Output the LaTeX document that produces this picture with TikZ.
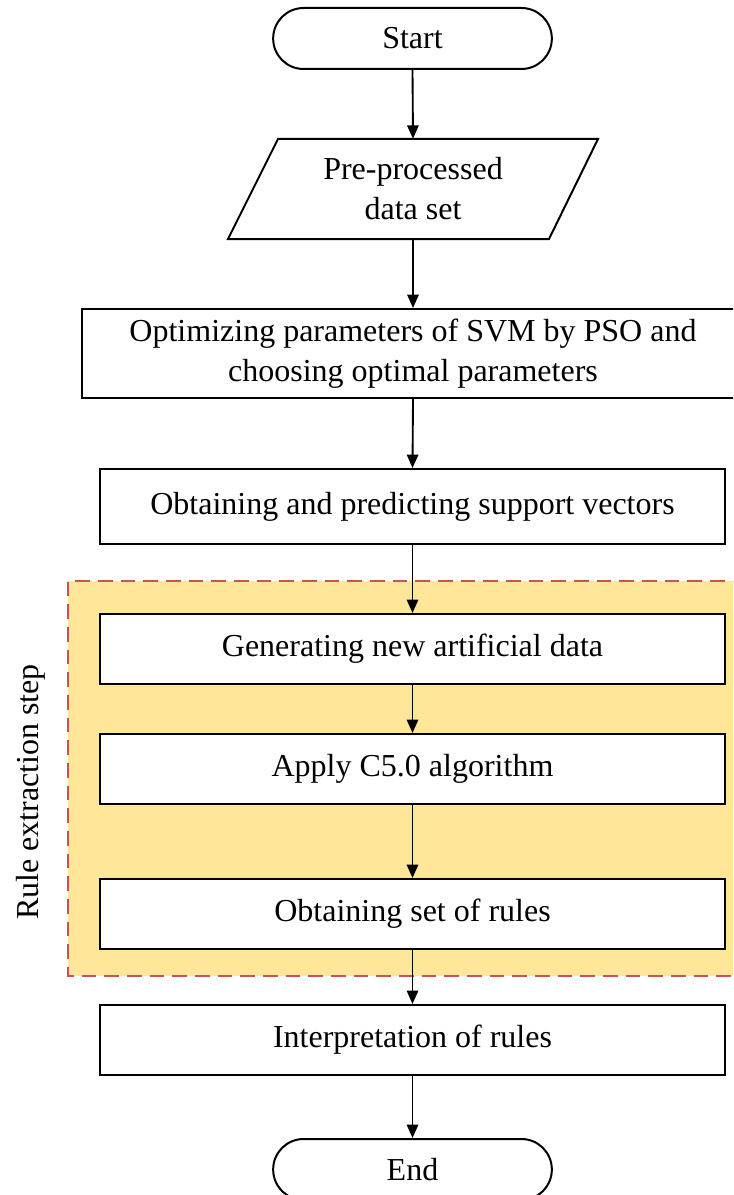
\documentclass[tikz,border=0pt]{standalone}
\usepackage{fontspec}
\setmainfont{Liberation Serif}
\usetikzlibrary{arrows.meta}
\definecolor{ruleyellow}{HTML}{FFE699}
\definecolor{rulered}{HTML}{C9534F}
\begin{document}
\begin{tikzpicture}[x=0.75pt,y=-0.75pt,
  every node/.style={font=\fontsize{24}{30}\selectfont, align=center, inner sep=0pt},
  procbox/.style={draw=black, line width=1.5pt, fill=white, rectangle},
  termbox/.style={draw=black, line width=1.5pt, fill=white, rectangle, rounded corners=22.8pt,
                  minimum width=209pt, minimum height=45.75pt},
  flow/.style={draw=black, line width=1.4pt, -{Triangle[length=10pt,width=8.5pt]}},
  regionline/.style={draw=rulered, line width=1.5pt, dash pattern=on 11pt off 6pt}
]
\useasboundingbox (0,0) rectangle (733,1195);
\begin{scope}
\clip (0,0) rectangle (733,1195);
% rule extraction region
\fill[ruleyellow] (68,581) rectangle (760,976);
\draw[regionline] (770,581) -- (68,581) -- (68,976) -- (770,976);
\node[rotate=90] (rlabel) at (31,792) {Rule extraction step};

% start
\node[termbox] (start) at (412.5,38.5) {Start};
% parallelogram
\draw[line width=1.5pt, fill=white] (278,139) -- (598,139) -- (549,239) -- (228,239) -- cycle;
\node[minimum width=240pt, minimum height=75pt] (data) at (413,189) {Pre-processed\\data set};
% boxes
\node[procbox, minimum width=496.5pt, minimum height=66.75pt] (opt) at (413,353.5)
  {Optimizing parameters of SVM by PSO and\\choosing optimal parameters};
\node[procbox, minimum width=468.75pt, minimum height=56.25pt] (sv) at (412.5,506.5)
  {Obtaining and predicting support vectors};
\node[procbox, minimum width=468.75pt, minimum height=52.5pt] (gen) at (412.5,649)
  {Generating new artificial data};
\node[procbox, minimum width=468.75pt, minimum height=52.5pt] (c50) at (412.5,769)
  {Apply C5.0 algorithm};
\node[procbox, minimum width=468.75pt, minimum height=52.5pt] (rules) at (412.5,914)
  {Obtaining set of rules};
\node[procbox, minimum width=468.75pt, minimum height=52.5pt] (interp) at (412.5,1040)
  {Interpretation of rules};
\node[termbox] (end) at (412.5,1169.5) {End};

% connectors
\draw[flow] (start.south) -- (data.north);
\draw[flow] (data.south) -- (opt.north);
\draw[flow] (opt.south) -- (sv.north);
\draw[flow] (sv.south) -- (gen.north);
\draw[flow] (gen.south) -- (c50.north);
\draw[flow] (c50.south) -- (rules.north);
\draw[flow] (rules.south) -- (interp.north);
\draw[flow] (interp.south) -- (end.north);
\end{scope}
\end{tikzpicture}
\end{document}
